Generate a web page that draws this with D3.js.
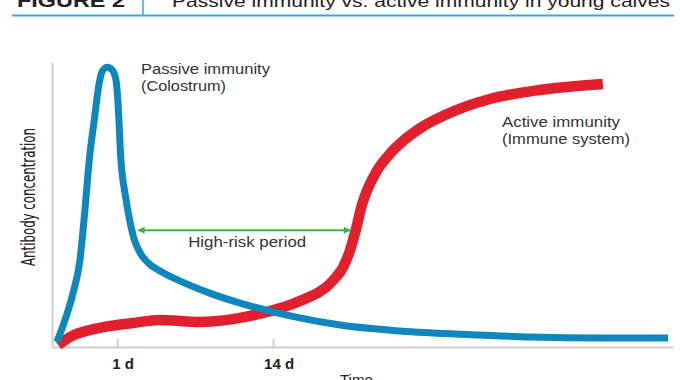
<!DOCTYPE html>
<html>
<head>
<meta charset="utf-8">
<script src="https://cdn.jsdelivr.net/npm/d3@7/dist/d3.min.js"></script>
<style>
  html, body { margin: 0; padding: 0; background: #fff; }
  svg { display: block; }
  text { font-family: "Liberation Sans", Arial, Helvetica, sans-serif; }
</style>
</head>
<body>
<svg id="chart" width="680" height="380"></svg>
<script>
// ---- Data (abstract units: x = time 0..100, y = antibody concentration 0..100) ----
const passiveX = [0.8, 2.1, 3.4, 4.5, 5.3, 6.0, 6.8, 7.6, 8.1, 8.9, 9.7, 10.3, 10.6, 11.1, 11.8, 12.6, 13.2, 14.2, 15.5, 17.4, 20.6, 25.4, 30.3, 35.1, 39.9, 46.4, 56.0, 68.9, 77.0, 88.2, 99.2];
const passiveY = [1.8, 9.5, 19.0, 30.5, 48.1, 65.6, 79.6, 92.6, 96.8, 98.2, 97.2, 93.7, 86.7, 65.6, 53.3, 43.5, 38.0, 33.0, 29.5, 26.7, 23.2, 18.9, 15.4, 12.6, 10.2, 7.7, 5.6, 4.2, 3.5, 3.2, 3.2];

const activeX = [1.0, 2.9, 7.7, 13.0, 17.4, 23.8, 29.1, 34.6, 39.9, 45.2, 46.9, 48.0, 49.0, 49.9, 50.9, 52.2, 54.1, 56.7, 59.6, 63.3, 70.5, 78.6, 88.7];
const activeY = [0.7, 3.5, 6.7, 8.4, 9.5, 8.8, 9.8, 12.3, 16.1, 23.2, 28.1, 34.0, 41.8, 49.8, 55.8, 61.4, 67.0, 72.6, 77.2, 81.4, 87.0, 90.2, 92.3];

const tickValues = [10.5, 35.6];
const tickLabels = ["1 d", "14 d"];

const riskRange = [13.9, 48.0];
const riskLevel = 41.0;

const titleTag = "FIGURE 2";
const titleText = "Passive immunity vs. active immunity in young calves";
const passiveLabel = ["Passive immunity", "(Colostrum)"];
const activeLabel = ["Active immunity", "(Immune system)"];
const riskLabel = "High-risk period";
const xTitle = "Time";
const yTitle = "Antibody concentration";

// ---- Layout ----
const svg = d3.select("#chart");
const x = d3.scaleLinear().domain([0, 100]).range([52, 673]);
const y = d3.scaleLinear().domain([0, 100]).range([347, 62]);

const blue = "#0f87bd";
const red = "#e21f2c";
const green = "#3bb54a";
const axisGray = "#cfcfcf";

// ---- Header ----
svg.append("line").attr("x1", 12).attr("x2", 674).attr("y1", 15.5).attr("y2", 15.5)
  .attr("stroke", "#35a9dc").attr("stroke-width", 2);
svg.append("line").attr("x1", 143).attr("x2", 143).attr("y1", 0).attr("y2", 15)
  .attr("stroke", "#35a9dc").attr("stroke-width", 1.5);
svg.append("text").attr("x", 17).attr("y", 6.5)
  .attr("font-size", 18).attr("font-weight", 900).attr("fill", "#222")
  .attr("textLength", 108).attr("lengthAdjust", "spacingAndGlyphs")
  .text(titleTag);
svg.append("text").attr("x", 172).attr("y", 6.5)
  .attr("font-size", 17).attr("fill", "#222")
  .attr("textLength", 498).attr("lengthAdjust", "spacingAndGlyphs")
  .text(titleText);

// ---- Axes ----
const xAxis = d3.axisBottom(x).tickValues(tickValues).tickFormat("")
  .tickSizeInner(-8).tickSizeOuter(0);
const gx = svg.append("g").attr("transform", `translate(0,${y(0)})`).call(xAxis);
gx.select(".domain").attr("stroke", axisGray).attr("stroke-width", 2);
gx.selectAll(".tick line").attr("stroke", axisGray).attr("stroke-width", 2);

svg.append("g").selectAll("text").data(tickValues).join("text")
  .attr("x", d => x(d) + 6).attr("y", y(0) + 22)
  .attr("text-anchor", "middle")
  .attr("font-size", 15).attr("font-weight", "bold").attr("fill", "#222")
  .text((d, i) => tickLabels[i]);

const yAxis = d3.axisLeft(y).tickValues([]).tickSizeOuter(0);
const gy = svg.append("g").attr("transform", `translate(${x(0)},0)`).call(yAxis);
gy.select(".domain").attr("stroke", axisGray).attr("stroke-width", 2);

svg.append("text")
  .attr("transform", `translate(35,197) rotate(-90)`)
  .attr("text-anchor", "middle")
  .attr("font-size", 19).attr("fill", "#222")
  .style("font-family", '"Liberation Sans Narrow", "DejaVu Sans Condensed", Arial, sans-serif')
  .attr("textLength", 138).attr("lengthAdjust", "spacingAndGlyphs")
  .text(yTitle);

svg.append("text").attr("x", 340).attr("y", 385)
  .attr("font-size", 15).attr("fill", "#222").text(xTitle);

// ---- Curves ----
const line = d3.line().x(d => x(d[0])).y(d => y(d[1])).curve(d3.curveMonotoneX);

const activePts = activeX.map((v, i) => [v, activeY[i]]);
const passivePts = passiveX.map((v, i) => [v, passiveY[i]]);

svg.append("path").datum(activePts).attr("d", line)
  .attr("fill", "none").attr("stroke", red).attr("stroke-width", 10.5)
  .attr("stroke-linejoin", "round");
svg.append("path").datum(passivePts).attr("d", line)
  .attr("fill", "none").attr("stroke", blue).attr("stroke-width", 7)
  .attr("stroke-linejoin", "round");

// ---- High-risk arrow ----
const defs = svg.append("defs");
["end", "start"].forEach(k => {
  defs.append("marker").attr("id", "arrow-" + k)
    .attr("viewBox", "0 0 10 10").attr("refX", 9).attr("refY", 5)
    .attr("markerWidth", 10).attr("markerHeight", 7)
    .attr("markerUnits", "userSpaceOnUse")
    .attr("orient", k === "end" ? "auto" : "auto-start-reverse")
    .append("path").attr("d", "M0,0 L10,5 L0,10 Z").attr("fill", green);
});
svg.append("line")
  .attr("x1", x(riskRange[0])).attr("x2", x(riskRange[1]))
  .attr("y1", y(riskLevel)).attr("y2", y(riskLevel))
  .attr("stroke", green).attr("stroke-width", 2)
  .attr("marker-start", "url(#arrow-start)").attr("marker-end", "url(#arrow-end)");

svg.append("text").attr("x", (x(riskRange[0]) + x(riskRange[1])) / 2 + 3).attr("y", y(riskLevel) + 17)
  .attr("text-anchor", "middle").attr("font-size", 14).attr("fill", "#333")
  .attr("textLength", 118).attr("lengthAdjust", "spacingAndGlyphs")
  .text(riskLabel);

// ---- Series labels ----
const pl = svg.append("text").attr("font-size", 14).attr("fill", "#333");
pl.append("tspan").attr("x", 141).attr("y", 74).attr("textLength", 129).attr("lengthAdjust", "spacingAndGlyphs").text(passiveLabel[0]);
pl.append("tspan").attr("x", 141).attr("y", 91).attr("textLength", 85).attr("lengthAdjust", "spacingAndGlyphs").text(passiveLabel[1]);

const al = svg.append("text").attr("font-size", 14).attr("fill", "#333");
al.append("tspan").attr("x", 502).attr("y", 127).attr("textLength", 118).attr("lengthAdjust", "spacingAndGlyphs").text(activeLabel[0]);
al.append("tspan").attr("x", 502).attr("y", 144).attr("textLength", 128).attr("lengthAdjust", "spacingAndGlyphs").text(activeLabel[1]);
</script>
</body>
</html>
